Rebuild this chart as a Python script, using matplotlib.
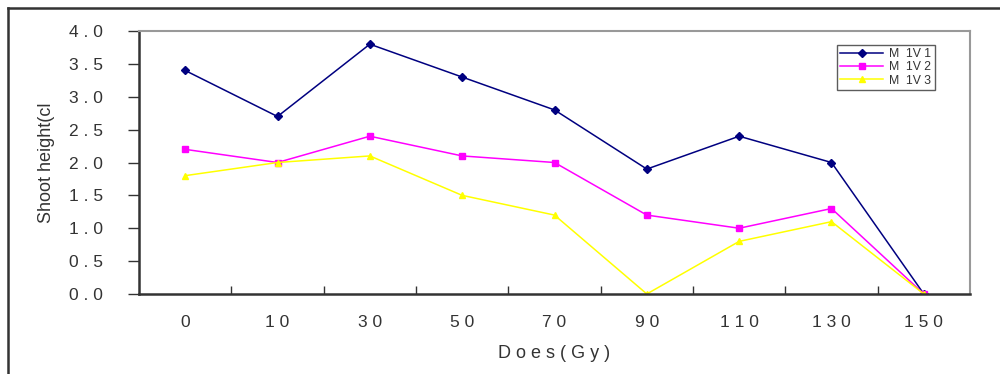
import matplotlib
matplotlib.use("Agg")
import matplotlib.pyplot as plt
from matplotlib.lines import Line2D

# dose groups and shoot heights for the three lines
doses = ["0", "1 0", "3 0", "5 0", "7 0", "9 0", "1 1 0", "1 3 0", "1 5 0"]
m1v1 = [3.4, 2.7, 3.8, 3.3, 2.8, 1.9, 2.4, 2.0, 0.0]
m1v2 = [2.2, 2.0, 2.4, 2.1, 2.0, 1.2, 1.0, 1.3, 0.0]
m1v3 = [1.8, 2.0, 2.1, 1.5, 1.2, 0.0, 0.8, 1.1, 0.0]
labels = ["M  1V 1", "M  1V 2", "M  1V 3"]
yticks = [0.0, 0.5, 1.0, 1.5, 2.0, 2.5, 3.0, 3.5, 4.0]

plt.rcParams['font.family'] = ['Liberation Sans', 'DejaVu Sans']
text_col = "#333333"

fig = plt.figure(figsize=(10, 3.74), dpi=100)
ax = fig.add_axes([0.139, 0.214, 0.831, 0.703])

x = list(range(len(doses)))
ax.plot(x, m1v1, color="#000080", marker="D", markersize=4, lw=1.1, label=labels[0])
ax.plot(x, m1v2, color="#FF00FF", marker="s", markersize=5, lw=1.1, label=labels[1])
ax.plot(x, m1v3, color="#FFFF00", marker="^", markersize=5, lw=1.1, label=labels[2])

ax.set_xlim(-0.5, len(doses) - 0.5)
ax.set_ylim(0, 4.0)

ax.set_yticks(yticks)
ax.set_yticklabels([("%.1f" % v).replace(".", " . ") for v in yticks])
ax.tick_params(axis="y", direction="out", length=8, width=1, color="#333333",
               pad=18, labelsize=12.5, labelcolor=text_col)

ax.set_xticks(x)
ax.set_xticklabels(doses)
ax.tick_params(axis="x", which="major", length=0, pad=15, labelsize=12.5, labelcolor=text_col)
ax.set_xticks([i + 0.5 for i in x[:-1]], minor=True)
ax.tick_params(axis="x", which="minor", direction="in", length=6, width=1, color="#333333")

for side in ["left", "bottom"]:
    ax.spines[side].set_color("#333333")
    ax.spines[side].set_linewidth(1.8)
for side in ["top", "right"]:
    ax.spines[side].set_color("#999999")
    ax.spines[side].set_linewidth(1.5)

ax.set_xlabel("D o e s ( G y )", fontsize=13, color=text_col, labelpad=11)
ax.set_ylabel("Shoot height(cl", fontsize=13, color=text_col, labelpad=10)

leg = ax.legend(loc="upper right", bbox_to_anchor=(0.965, 0.972), fontsize=8.8,
                frameon=True, fancybox=False, handlelength=3.5, handletextpad=0.5,
                borderpad=0.3, labelspacing=0.1, labelcolor=text_col)
leg.get_frame().set_edgecolor("#333333")
leg.get_frame().set_linewidth(1.0)

# outer frame (top and left edges only)
fig.add_artist(Line2D([8 / 1000, 1.0], [1 - 8 / 374, 1 - 8 / 374],
                      transform=fig.transFigure, color="#333333", lw=1.8))
fig.add_artist(Line2D([8 / 1000, 8 / 1000], [0.0, 1 - 8 / 374],
                      transform=fig.transFigure, color="#333333", lw=1.8))

fig.savefig("out.png", dpi=100)
